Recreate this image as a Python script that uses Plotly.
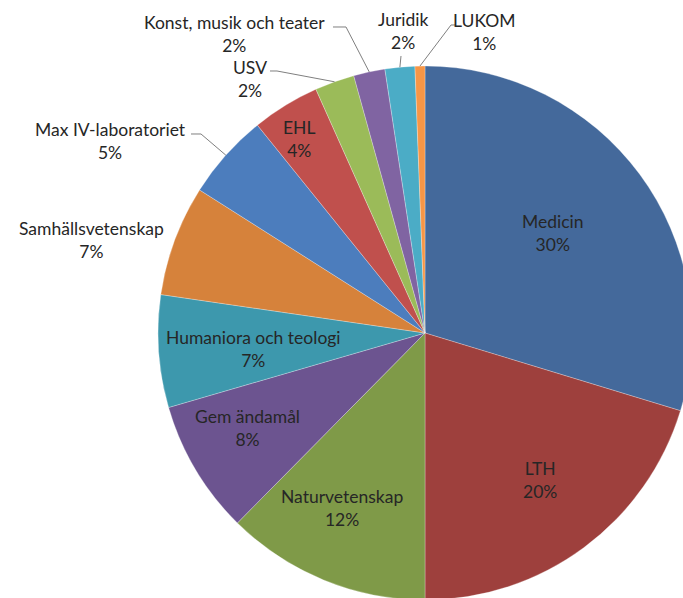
import math
import plotly.graph_objects as go

# ---- data ----
categories = ["Medicin", "LTH", "Naturvetenskap", "Gem ändamål", "Humaniora och teologi",
              "Samhällsvetenskap", "Max IV-laboratoriet", "EHL", "USV",
              "Konst, musik och teater", "Juridik", "LUKOM"]
values = [29.7, 20.3, 12.4, 8.1, 6.8, 6.7, 5.2, 4.1, 2.4, 1.9, 1.8, 0.6]
colors = ["#44699b", "#9e403d", "#7f9a48", "#6c5490", "#3d98ad", "#d6823b",
          "#4c7dbd", "#c0504d", "#9bbb59", "#8064a2", "#4bacc6", "#f79646"]

# ---- layout (pixels) ----
W, H = 700, 610
cx, cy, R = 425, 333, 267
FONT = "Lato"
FS = 17.5
TXT = "#262626"

def px(x):
    return x / W

def py(y):
    return 1 - y / H

total = sum(values)
fig = go.Figure(go.Pie(
    labels=categories, values=values, sort=False, direction="clockwise", rotation=0,
    marker=dict(colors=colors, line=dict(color="rgba(255,255,255,0.45)", width=0.6)),
    textinfo="none",
    hoverinfo="label+percent",
    domain=dict(x=[px(cx - R), px(cx + R)], y=[py(cy + R), py(cy - R)]),
    showlegend=False,
))

# label placement: text centre and optional leader elbow (layout positions)
label_pos = {
    "Medicin": dict(t=(553, 233), line=None),
    "LTH": dict(t=(540, 480), line=None),
    "Naturvetenskap": dict(t=(342, 508), line=None),
    "Gem ändamål": dict(t=(248, 428), line=None),
    "Humaniora och teologi": dict(t=(253, 349), line=None),
    "Samhällsvetenskap": dict(t=(91, 240), line=None),
    "Max IV-laboratoriet": dict(t=(111, 141), line=[(191, 134), (201, 134)]),
    "EHL": dict(t=(299, 139), line=None),
    "USV": dict(t=(250, 79), line=[(270, 71), (277, 71)]),
    "Konst, musik och teater": dict(t=(234, 34), line=[(333, 27), (346, 27)]),
    "Juridik": dict(t=(403, 31), line=[(401, 56)]),
    "LUKOM": dict(t=(484, 32), line=[(456, 25), (451, 25)]),
}

annotations = []
shapes = []
cum = 0.0
for c, v in zip(categories, values):
    mid = (cum + v / 2) / total
    cum += v
    o = label_pos[c]
    pct = f"{round(v / total * 100)}%"
    annotations.append(dict(x=px(o["t"][0]), y=py(o["t"][1]), xref="paper", yref="paper",
                            text=f"{c}<br>{pct}", showarrow=False, xanchor="center",
                            yanchor="middle", align="center",
                            font=dict(family=FONT, size=FS, color=TXT)))
    if o["line"]:
        th = 2 * math.pi * mid
        ex, ey = cx + R * math.sin(th), cy - R * math.cos(th)
        pts = o["line"] + [(ex, ey)]
        path = "M " + " L ".join(f"{px(a):.5f},{py(b):.5f}" for a, b in pts)
        shapes.append(dict(type="path", path=path, xref="paper", yref="paper",
                           line=dict(color="#7f7f7f", width=1)))

fig.update_layout(width=W, height=H, margin=dict(l=0, r=0, t=0, b=0),
                  paper_bgcolor="white", plot_bgcolor="white",
                  annotations=annotations, shapes=shapes)

fig.write_html("out.html", config={"displayModeBar": False}, post_script=(
    "document.body.style.margin='0';document.body.style.overflow='hidden';"
    "document.documentElement.style.overflow='hidden';"))
